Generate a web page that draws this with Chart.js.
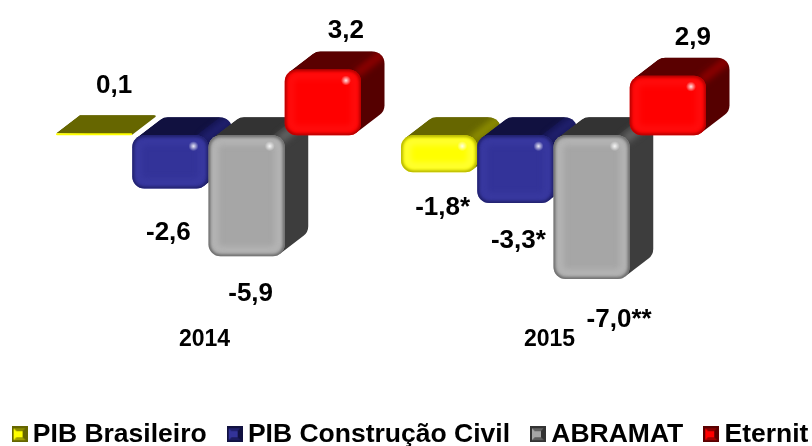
<!DOCTYPE html>
<html lang="pt">

<head>
    <meta charset="UTF-8">
    <title>PIB, ABRAMAT e Eternit</title>
    <script src="https://cdn.jsdelivr.net/npm/chart.js"></script>
    <style>
        html, body {
            margin: 0;
            padding: 0;
            background: white;
            overflow: hidden;
        }

        #box {
            position: relative;
            width: 812px;
            height: 446px;
        }
    </style>
</head>

<body>
    <div id="box"><canvas id="grafico"></canvas></div>

    <script>
        const anos = ["2014", "2015"];
        const pibBrasileiro = [0.1, -1.8];
        const pibConstrucao = [-2.6, -3.3];
        const abramat = [-5.9, -7.0];
        const eternit = [3.2, 2.9];

        // o texto dos rótulos tem asteriscos, por isso fica separado dos valores
        const rotulosPib = ["0,1", "-1,8*"];
        const rotulosConstrucao = ["-2,6", "-3,3*"];
        const rotulosAbramat = ["-5,9", "-7,0**"];
        const rotulosEternit = ["3,2", "2,9"];

        const FONTE = '"Liberation Sans", Arial, sans-serif';
        const DX = 23.5, DY = 18, RAIO = 12;

        // cores: frente, topo, lado, aresta, brilho da borda, sombra da borda
        const estilos = [
            { frente: "#ffff00", topo: "#666600", lado: "#666600", aresta: "#8c8c00", luz: "#ffff40", borda: "#a0a000" },
            { frente: "#333399", topo: "#111140", lado: "#141450", aresta: "#20206e", luz: "#3a3aa2", borda: "#1c1c60" },
            { frente: "#a6a6a6", topo: "#333333", lado: "#3d3d3d", aresta: "#626262", luz: "#b8b8b8", borda: "#5c5c5c" },
            { frente: "#ff0000", topo: "#5a0000", lado: "#550000", aresta: "#8c0000", luz: "#ff1010", borda: "#a00000" }
        ];

        // deslocamento do rótulo em relação à ponta da barra [x, y], por série e por ano
        const ajustes = [
            [[20, -47], [3.5, 36]],
            [[-2, 44], [3, 38]],
            [[4, 37], [27.5, 41]],
            [[23, -39], [25, -38]]
        ];

        function caixa(bar) {
            const p = bar.getProps(["x", "y", "base", "width"], true);
            const top = Math.min(p.y, p.base), bottom = Math.max(p.y, p.base);
            const left = p.x - p.width / 2, right = p.x + p.width / 2;
            return { left, right, top, bottom, r: Math.min(RAIO, (bottom - top) / 2) };
        }

        // contorno do bloco visto em perspectiva
        function contorno(ctx, b) {
            const n = Math.hypot(DX, DY), nx = DY / n, ny = DX / n;
            const ang = Math.atan2(-ny, -nx), ang2 = Math.atan2(ny, nx);
            const r = b.r;
            ctx.beginPath();
            ctx.moveTo(b.left + r - nx * r, b.top + r - ny * r);
            ctx.arc(b.left + r + DX, b.top + r - DY, r, ang, -Math.PI / 2);
            ctx.arc(b.right - r + DX, b.top + r - DY, r, -Math.PI / 2, 0);
            ctx.arc(b.right - r + DX, b.bottom - r - DY, r, 0, ang2);
            ctx.lineTo(b.right - r + nx * r, b.bottom - r + ny * r);
            ctx.closePath();
        }

        function desenhaFundo(ctx, b, st) {
            const r = b.r;
            ctx.save();
            contorno(ctx, b);
            ctx.fillStyle = st.lado;
            ctx.fill();
            ctx.clip();

            // face de cima
            const n = Math.hypot(DX, DY), nx = DY / n, ny = DX / n;
            ctx.beginPath();
            ctx.moveTo(b.left + r - nx * r, b.top + r - ny * r);
            ctx.arc(b.left + r + DX, b.top + r - DY, r, Math.atan2(-ny, -nx), -Math.PI / 2);
            ctx.lineTo(b.right - r + DX, b.top - DY);
            ctx.lineTo(b.right - r, b.top);
            ctx.closePath();
            ctx.fillStyle = st.topo;
            ctx.fill();

            // aresta arredondada entre o topo e o lado
            if (r > 6) {
                ctx.filter = "blur(3px)";
                ctx.strokeStyle = st.aresta;
                ctx.lineWidth = 9;
                ctx.lineCap = "round";
                ctx.beginPath();
                ctx.moveTo(b.right - 3, b.top + 3);
                ctx.lineTo(b.right - 3 + DX, b.top + 3 - DY);
                ctx.stroke();
                ctx.filter = "none";
            }
            ctx.restore();
        }

        function desenhaBrilho(ctx, b, st) {
            const w = b.right - b.left, h = b.bottom - b.top;
            if (h < 6) return;
            ctx.save();
            ctx.beginPath();
            ctx.roundRect(b.left, b.top, w, h, b.r);
            ctx.clip();

            ctx.filter = "blur(3px)";
            ctx.strokeStyle = st.luz;
            ctx.lineWidth = 6;
            ctx.beginPath();
            ctx.roundRect(b.left + 6, b.top + 6, w - 12, h - 12, 6);
            ctx.stroke();

            ctx.filter = "blur(1.5px)";
            ctx.strokeStyle = st.borda;
            ctx.lineWidth = 3;
            ctx.beginPath();
            ctx.roundRect(b.left, b.top, w, h, b.r);
            ctx.stroke();
            ctx.filter = "none";

            // ponto de brilho
            const bx = b.right - 15, by = b.top + 11;
            const g = ctx.createRadialGradient(bx, by, 0, bx, by, 5);
            g.addColorStop(0, "rgba(255,255,255,0.9)");
            g.addColorStop(1, "rgba(255,255,255,0)");
            ctx.fillStyle = g;
            ctx.fillRect(bx - 5, by - 5, 10, 10);
            ctx.restore();
        }

        const blocos3d = {
            id: "blocos3d",
            // desenha as séries da primeira para a última, o Eternit fica na frente
            beforeDatasetsDraw(chart) {
                const ctx = chart.ctx;
                chart.data.datasets.forEach((ds, i) => {
                    const meta = chart.getDatasetMeta(i);
                    meta.data.forEach(bar => desenhaFundo(ctx, caixa(bar), estilos[i]));
                    meta.controller.draw();
                    meta.data.forEach(bar => desenhaBrilho(ctx, caixa(bar), estilos[i]));
                });

                ctx.save();
                ctx.font = "bold 26px " + FONTE;
                ctx.fillStyle = "#000";
                ctx.textAlign = "center";
                ctx.textBaseline = "middle";
                chart.data.datasets.forEach((ds, i) => {
                    chart.getDatasetMeta(i).data.forEach((bar, j) => {
                        const neg = ds.data[j] < 0;
                        const b = caixa(bar);
                        const a = ajustes[i][j];
                        ctx.fillText(ds.rotulos[j], bar.x + a[0], (neg ? b.bottom : b.top) + a[1]);
                    });
                });
                ctx.restore();
                return false;
            },
            afterLayout(chart) {
                // a legenda ocupa quase toda a largura: refaz a medida em uma só linha
                const l = chart.legend;
                l.maxWidth = 900;
                l.fit();
                l.left = -16;
                l.right = 844;
                l.top = 393;
                l.bottom = 446;
            }
        };

        function iconeLegenda(st) {
            const c = document.createElement("canvas");
            c.width = 16;
            c.height = 16;
            const x = c.getContext("2d");
            x.fillStyle = st.topo;
            x.fillRect(0, 0, 16, 16);
            const tri = (cor, pts) => {
                x.fillStyle = cor;
                x.beginPath();
                pts.forEach((p, i) => i ? x.lineTo(p[0], p[1]) : x.moveTo(p[0], p[1]));
                x.closePath();
                x.fill();
            };
            tri(st.aresta, [[2, 2], [14, 2], [8, 8]]);
            tri(st.topo, [[14, 2], [14, 14], [8, 8]]);
            tri(st.borda, [[2, 14], [14, 14], [8, 8]]);
            tri(st.frente, [[2, 2], [2, 14], [8, 8]]);
            x.fillStyle = st.frente;
            x.fillRect(5, 5, 6, 6);
            return c;
        }

        const nomes = ["PIB Brasileiro", "PIB Construção Civil", "ABRAMAT", "Eternit"];
        const series = [pibBrasileiro, pibConstrucao, abramat, eternit];
        const rotulos = [rotulosPib, rotulosConstrucao, rotulosAbramat, rotulosEternit];

        new Chart(document.getElementById("grafico"), {
            type: "bar",
            data: {
                labels: anos,
                datasets: series.map((valores, i) => ({
                    label: nomes[i],
                    data: valores,
                    rotulos: rotulos[i],
                    backgroundColor: estilos[i].frente,
                    borderRadius: RAIO,
                    borderSkipped: false
                }))
            },
            options: {
                responsive: true,
                maintainAspectRatio: false,
                animation: false,
                datasets: { bar: { categoryPercentage: 0.884, barPercentage: 1 } },
                layout: { padding: { left: 36, right: 86, top: 32.5, bottom: 7.4 } },
                scales: {
                    x: {
                        grid: { display: false, drawTicks: false },
                        border: { display: false },
                        ticks: {
                            padding: 5.5,
                            labelOffset: -4,
                            color: "#000",
                            font: { family: FONTE, weight: "bold", size: 23 }
                        }
                    },
                    y: { display: false, min: -9, max: 5 }
                },
                plugins: {
                    tooltip: { enabled: false },
                    legend: {
                        position: "bottom",
                        maxHeight: 80,
                        labels: {
                            usePointStyle: true,
                            pointStyleWidth: 0.01,
                            padding: 28,
                            color: "#000",
                            font: { family: FONTE, weight: "bold", size: 26.5 },
                            generateLabels: chart => chart.data.datasets.map((ds, i) => ({
                                text: ds.label,
                                fontColor: "#000",
                                pointStyle: iconeLegenda(estilos[i]),
                                datasetIndex: i,
                                lineWidth: 0
                            }))
                        }
                    }
                }
            },
            plugins: [blocos3d]
        });
    </script>
</body>

</html>
